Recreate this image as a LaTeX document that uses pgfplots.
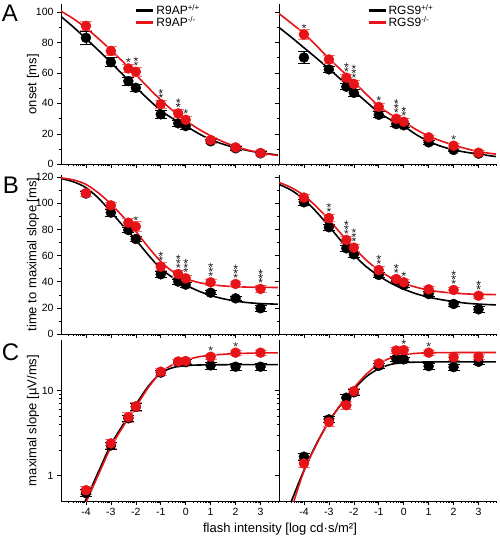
\documentclass[border=0pt]{standalone}
\usepackage{fontspec}
\setmainfont{Liberation Sans}
\usepackage{pgfplots}
\pgfplotsset{compat=1.18}
\definecolor{myred}{RGB}{230,20,25}
\definecolor{errred}{RGB}{240,120,120}
\definecolor{stargray}{RGB}{45,45,45}
\pgfplotsset{
  panel/.style={scale only axis, width=217pt, anchor=south west,
    axis x line*=bottom, axis y line*=left,
    xmin=-5, xmax=3.7, xtick={-4,-3,...,3},
    minor xtick={-4.699,-4.523,-4.398,-4.301,-4.222,-4.155,-4.097,-4.046,
      -3.699,-3.523,-3.398,-3.301,-3.222,-3.155,-3.097,-3.046,
      -2.699,-2.523,-2.398,-2.301,-2.222,-2.155,-2.097,-2.046,
      -1.699,-1.523,-1.398,-1.301,-1.222,-1.155,-1.097,-1.046,
      -0.699,-0.523,-0.398,-0.301,-0.222,-0.155,-0.097,-0.046,
      0.301,0.477,0.602,0.699,0.778,0.845,0.903,0.954,
      1.301,1.477,1.602,1.699,1.778,1.845,1.903,1.954,
      2.301,2.477,2.602,2.699,2.778,2.845,2.903,2.954,
      3.301,3.477,3.602,3.699},
    tick align=outside, major tick length=4pt, minor tick length=2pt,
    every tick/.append style={black, line width=0.6pt},
    axis line style={line width=0.8pt},
    tick label style={font=\fontsize{10.5}{11}\selectfont},
    /pgf/number format/assume math mode=true,
    every axis y label/.style={at={(axis description cs:-0.129,0.5)}, rotate=90, anchor=center, font=\fontsize{13}{14}\selectfont},
    legend image code/.code={\draw[line width=3pt] (0pt,0pt) -- (17pt,0pt);},
    legend cell align=left,
  },
  leg/.style={legend style={at={(axis description cs:#1,1.0)}, anchor=north west, draw=none, fill=none, font=\fontsize{12}{12}\selectfont, row sep=0.5pt, inner sep=0pt, nodes={inner xsep=1.5pt, inner ysep=0pt}}},
  fitb/.style={black, line width=1.6pt, smooth, no markers, forget plot},
  fitr/.style={myred, line width=1.6pt, smooth, no markers, forget plot},
  ptb/.style={only marks, mark=*, mark size=5pt, mark options={draw=black, fill=black}, forget plot,
    error bars/.cd, y dir=both, y explicit, error bar style={black, line width=0.7pt}, error mark options={rotate=90, black, mark size=6pt, line width=0.7pt}},
  ptr/.style={only marks, mark=*, mark size=5pt, mark options={draw=myred, fill=myred}, forget plot,
    error bars/.cd, y dir=both, y explicit, error bar style={errred, line width=0.7pt}, error mark options={rotate=90, errred, mark size=6pt, line width=0.7pt}},
  sig/.style={only marks, mark=star, mark size=2.3pt, forget plot, mark options={draw=stargray, line width=0.6pt, yshift=#1}},
  rowA/.style={height=160pt, ymin=0, ymax=105, ytick={0,20,...,100}, minor y tick num=1},
  rowB/.style={height=159pt, ymin=0, ymax=121.7, ytick={0,20,...,120}, minor y tick num=1},
  rowC/.style={height=161pt, ymin=0.5, ymax=39.2, ytick={1,10}, yticklabels={1,10}},
}
\begin{document}
\begin{tikzpicture}
\useasboundingbox (0,0) rectangle (500pt,539pt);
% ---------- A left
\begin{axis}[panel, rowA, at={(61pt,374.7pt)}, xticklabels={}, ylabel={onset [ms]}, leg=0.34]
\addlegendimage{black}\addlegendentry{R9AP\textsuperscript{+/+}}
\addlegendimage{myred}\addlegendentry{R9AP\textsuperscript{-/-}}
\addplot[fitb] coordinates {(-5,97) (-4.5,90) (-4,82.5) (-3.5,74.8) (-3,66.8) (-2.5,58.6) (-2,50.5) (-1.5,42.7) (-1,35.3) (-0.5,29.8) (0,25.2) (0.5,20.3) (1,16.2) (1.5,13.2) (2,10.9) (2.5,9.0) (3,7.6) (3.5,6.5) (3.7,6.1)};
\addplot[ptb] coordinates {(-4,83.0)+-(0,4) (-3,67.0)+-(0,3) (-2.3,54.6)+-(0,2.5) (-2,50.2)+-(0,2.5) (-1,32.8)+-(0,2.5) (-0.3,26.9)+-(0,2) (0,25.1)+-(0,2) (1,15.1)+-(0,1.5) (2,10.5)+-(0,1.5) (3,7.2)+-(0,1)};
\addplot[fitr] coordinates {(-5,100.5) (-4.5,95.5) (-4,89.5) (-3.5,82.5) (-3,75) (-2.5,67) (-2,58.8) (-1.5,50.3) (-1,42.2) (-0.5,35) (0,28.8) (0.5,23.3) (1,18.7) (1.5,14.8) (2,11.7) (2.5,9.3) (3,7.5) (3.5,6.2) (3.7,5.8)};
\addplot[ptr] coordinates {(-4,90.8)+-(0,3) (-3,74.4)+-(0,3) (-2.3,62.9)+-(0,2.5) (-2,60.7)+-(0,3) (-1,39.5)+-(0,2.5) (-0.3,33.4)+-(0,2.5) (0,29.2)+-(0,2.5) (1,15.9)+-(0,2) (2,11.1)+-(0,1.5) (3,7.4)+-(0,1.5)};
\addplot[sig=8.4pt] coordinates {(-2.3,62.9) (-2,60.7) (-1,39.5) (-0.3,33.4) (0,29.2)};
\addplot[sig=12.8pt] coordinates {(-2,60.7) (-1,39.5) (-0.3,33.4)};
\end{axis}
% ---------- A right
\begin{axis}[panel, rowA, at={(279pt,374.7pt)}, xticklabels={}, yticklabels={}, leg=0.405]
\addlegendimage{black}\addlegendentry{RGS9\textsuperscript{+/+}}
\addlegendimage{myred}\addlegendentry{RGS9\textsuperscript{-/-}}
\addplot[fitb] coordinates {(-5,89.8) (-4.5,83.3) (-4,76.5) (-3.5,69.7) (-3,62.7) (-2.5,55.4) (-2,48.2) (-1.5,41) (-1,34) (-0.5,29) (0,25) (0.5,19.5) (1,15) (1.5,11.8) (2,9.5) (2.5,7.9) (3,6.7) (3.5,5.5) (3.7,5.1)};
\addplot[ptb] coordinates {(-4,70.1)+-(0,4) (-3,62.3)+-(0,2) (-2.3,50.9)+-(0,2) (-2,46.9)+-(0,2) (-1,32.5)+-(0,2) (-0.3,26.4)+-(0,1.5) (0,25.6)+-(0,1.5) (1,14.4)+-(0,1.5) (2,9.4)+-(0,1) (3,7.0)+-(0,1)};
\addplot[fitr] coordinates {(-5,98.9) (-4.5,92.5) (-4,85.8) (-3.5,77.8) (-3,69.5) (-2.5,61.7) (-2,54) (-1.5,46) (-1,38.2) (-0.5,32.5) (0,27.9) (0.5,22.8) (1,18.5) (1.5,15.3) (2,12.6) (2.5,10.3) (3,8.3) (3.5,7.1) (3.7,6.7)};
\addplot[ptr] coordinates {(-4,85.2)+-(0,3.5) (-3,68.8)+-(0,2.5) (-2.3,56.8)+-(0,2) (-2,52.8)+-(0,2.5) (-1,37.7)+-(0,2) (-0.3,29.9)+-(0,2) (0,27.9)+-(0,2.5) (1,17.7)+-(0,1.5) (2,12.2)+-(0,1.5) (3,7.6)+-(0,1.5)};
\addplot[sig=8.4pt] coordinates {(-4,85.2) (-2.3,56.8) (-2,52.8) (-1,37.7) (-0.3,29.9) (0,27.9) (2,12.2)};
\addplot[sig=12.8pt] coordinates {(-2.3,56.8) (-2,52.8) (-0.3,29.9) (0,27.9)};
\addplot[sig=17.2pt] coordinates {(-2,52.8) (-0.3,29.9)};
\end{axis}
% ---------- B left
\begin{axis}[panel, rowB, at={(61pt,205pt)}, xticklabels={}, ylabel={time to maximal slope [ms]}]
\addplot[fitb] coordinates {(-5,119) (-4.5,116.5) (-4,112) (-3.5,104) (-3,93.5) (-2.5,82.5) (-2,72) (-1.5,60.5) (-1,50) (-0.5,43) (0,37.5) (0.5,33) (1,29.5) (1.5,27) (2,25.2) (2.5,24) (3,23.3) (3.7,22.8)};
\addplot[ptb] coordinates {(-4,107.5)+-(0,2) (-3,92.9)+-(0,2.5) (-2.3,79.6)+-(0,2) (-2,72.7)+-(0,2) (-1,45.7)+-(0,2.5) (-0.3,40.1)+-(0,2) (0,37.8)+-(0,2) (1,31.6)+-(0,1.5) (2,27.3)+-(0,1.5) (3,19.7)+-(0,2)};
\addplot[fitr] coordinates {(-5,119.5) (-4.5,118) (-4,114.5) (-3.5,108) (-3,99.5) (-2.5,89.5) (-2,78.5) (-1.5,66.5) (-1,55.5) (-0.5,47.5) (0,42.5) (0.5,39.5) (1,37.8) (1.5,36.8) (2,36.2) (2.5,35.9) (3,35.7) (3.7,35.6)};
\addplot[ptr] coordinates {(-4,107.8)+-(0,2.5) (-3,98.5)+-(0,2.5) (-2.3,85.2)+-(0,3) (-2,82.2)+-(0,4) (-1,51.5)+-(0,3) (-0.3,45.9)+-(0,2.5) (0,42.6)+-(0,2.5) (1,39.6)+-(0,2) (2,38.3)+-(0,2) (3,34.5)+-(0,2.5)};
\addplot[sig=8.4pt] coordinates {(-2,82.2) (-1,51.5) (-0.3,45.9) (0,42.6) (1,39.6) (2,38.3) (3,34.5)};
\addplot[sig=12.8pt] coordinates {(-1,51.5) (-0.3,45.9) (0,42.6) (1,39.6) (2,38.3) (3,34.5)};
\addplot[sig=17.2pt] coordinates {(-0.3,45.9) (0,42.6) (1,39.6) (2,38.3) (3,34.5)};
\end{axis}
% ---------- B right
\begin{axis}[panel, rowB, at={(279pt,205pt)}, xticklabels={}, yticklabels={}]
\addplot[fitb] coordinates {(-5,114.5) (-4.5,110) (-4,103) (-3.5,93.5) (-3,82.5) (-2.5,71) (-2,60.5) (-1.5,51.5) (-1,44.5) (-0.5,38.8) (0,34.3) (0.5,30.8) (1,28.2) (1.5,26.3) (2,24.8) (2.5,23.6) (3,22.9) (3.5,22.4) (3.7,22.3)};
\addplot[ptb] coordinates {(-4,100.8)+-(0,2.5) (-3,81.7)+-(0,2.5) (-2.3,65.6)+-(0,2.5) (-2,61.0)+-(0,2) (-1,45.2)+-(0,2) (-0.3,40.6)+-(0,2) (0,37.5)+-(0,2) (1,30.6)+-(0,2) (2,23.0)+-(0,2) (3,18.9)+-(0,2)};
\addplot[fitr] coordinates {(-5,116) (-4.5,112) (-4,106) (-3.5,97.5) (-3,87.5) (-2.5,76.5) (-2,66) (-1.5,56.5) (-1,48.8) (-0.5,43) (0,38.8) (0.5,35.8) (1,33.6) (1.5,32.2) (2,31.3) (2.5,30.7) (3,30.4) (3.5,30.2) (3.7,30.2)};
\addplot[ptr] coordinates {(-4,104.4)+-(0,2.5) (-3,88.8)+-(0,2.5) (-2.3,72.0)+-(0,2.5) (-2,66.1)+-(0,2.5) (-1,49.0)+-(0,2.5) (-0.3,42.1)+-(0,2) (0,39.6)+-(0,2) (1,34.2)+-(0,2) (2,33.7)+-(0,2) (3,29.3)+-(0,2)};
\addplot[sig=8.4pt] coordinates {(-3,88.8) (-2.3,72.0) (-2,66.1) (-1,49.0) (-0.3,42.1) (0,39.6) (2,33.7) (3,29.3)};
\addplot[sig=12.8pt] coordinates {(-3,88.8) (-2.3,72.0) (-2,66.1) (-1,49.0) (-0.3,42.1) (2,33.7) (3,29.3)};
\addplot[sig=17.2pt] coordinates {(-2.3,72.0) (-2,66.1) (2,33.7)};
\end{axis}
% ---------- C left
\begin{semilogyaxis}[panel, rowC, at={(61pt,38pt)}, ylabel={maximal slope [µV/ms]}]
\addplot[fitb] coordinates {(-4.1,0.45) (-4,0.52) (-3.5,1.1) (-3,2.3) (-2.5,4.0) (-2,6.8) (-1.5,11.2) (-1,16) (-0.5,18.6) (0,19.6) (0.5,19.9) (1,20.0) (2,20.1) (3,20.1) (3.7,20.1)};
\addplot[ptb] coordinates {(-4,0.62)+-(0,0.06) (-3,2.25)+-(0,0.2) (-2.3,4.7)+-(0,0.4) (-2,6.4)+-(0,0.6) (-1,16.2)+-(0,1.2) (-0.3,21.5)+-(0,1.5) (0,21.5)+-(0,1.5) (1,19.7)+-(0,1.8) (2,19.0)+-(0,1.8) (3,19.0)+-(0,1.8)};
\addplot[fitr] coordinates {(-4.05,0.45) (-4,0.48) (-3.5,1.02) (-3,2.15) (-2.5,3.8) (-2,6.4) (-1.5,10.8) (-1,16.3) (-0.5,20.2) (0,22.7) (0.5,24.8) (1,25.9) (1.5,26.6) (2,27.1) (3,27.6) (3.7,27.7)};
\addplot[ptr] coordinates {(-4,0.67)+-(0,0.07) (-3,2.38)+-(0,0.3) (-2.3,4.85)+-(0,0.6) (-2,6.5)+-(0,0.8) (-1,16.6)+-(0,1.5) (-0.3,21.9)+-(0,1.5) (0,22.2)+-(0,1.5) (1,24.9)+-(0,2) (2,27.8)+-(0,2) (3,27.8)+-(0,2)};
\addplot[sig=8.4pt] coordinates {(1,24.9) (2,27.8)};
\end{semilogyaxis}
% ---------- C right
\begin{semilogyaxis}[panel, rowC, at={(279pt,38pt)}, yticklabels={}]
\addplot[fitb] coordinates {(-4.55,0.45) (-4.5,0.5) (-4,1.15) (-3.5,2.35) (-3,4.3) (-2.5,6.9) (-2,10.3) (-1.5,14.5) (-1,18) (-0.5,20.3) (0,21.2) (0.5,21.5) (1,21.6) (2,21.7) (3,21.7) (3.7,21.7)};
\addplot[ptb] coordinates {(-4,1.66)+-(0,0.15) (-3,4.56)+-(0,0.4) (-2.3,8.2)+-(0,0.7) (-2,9.5)+-(0,0.8) (-1,19.5)+-(0,1.5) (-0.3,23.6)+-(0,1.5) (0,23.2)+-(0,1.5) (1,19.3)+-(0,1.5) (2,18.8)+-(0,1.5) (3,21.7)+-(0,1.5)};
\addplot[fitr] coordinates {(-4.45,0.45) (-4.4,0.5) (-4,1.12) (-3.5,2.3) (-3,4.3) (-2.5,7.0) (-2,10.7) (-1.5,15.5) (-1,20.5) (-0.5,24.3) (0,26.4) (0.5,27.3) (1,27.7) (2,27.9) (3,27.9) (3.7,27.9)};
\addplot[ptr] coordinates {(-4,1.38)+-(0,0.15) (-3,4.24)+-(0,0.5) (-2.3,6.7)+-(0,0.7) (-2,9.8)+-(0,0.8) (-1,20.8)+-(0,1.5) (-0.3,29.5)+-(0,2.5) (0,29.8)+-(0,2.5) (1,27.8)+-(0,2) (2,24.6)+-(0,2) (3,24.9)+-(0,2)};
\addplot[sig=8.4pt] coordinates {(0,29.8) (1,27.8)};
\end{semilogyaxis}
% ---------- labels
\node[font=\fontsize{13}{14}\selectfont] at (280pt,10pt) {flash intensity [log cd·s/m²]};
\node[font=\fontsize{24}{24}\selectfont] at (10pt,525.5pt) {A};
\node[font=\fontsize{24}{24}\selectfont] at (11pt,354pt) {B};
\node[font=\fontsize{24}{24}\selectfont] at (10.5pt,187pt) {C};
\end{tikzpicture}
\end{document}
